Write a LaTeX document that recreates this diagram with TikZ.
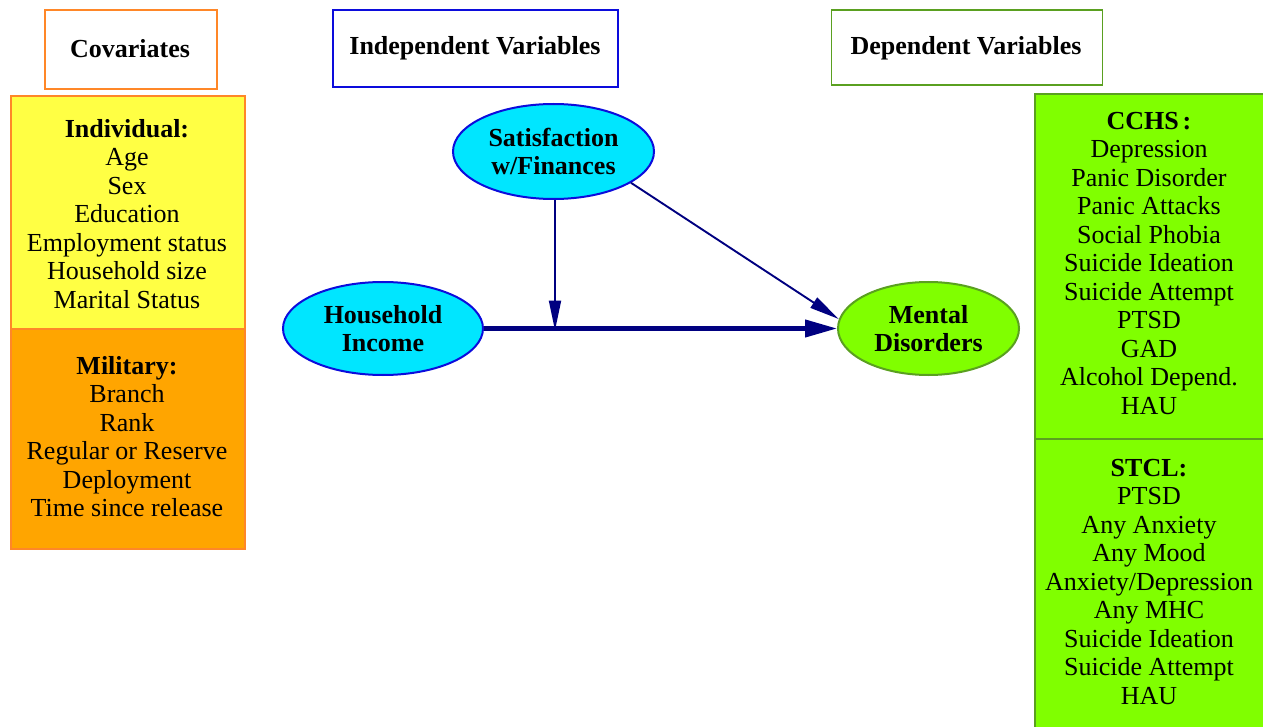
\documentclass[tikz,border=0pt]{standalone}
\usepackage{fontspec}
\setmainfont{Liberation Serif}
\usetikzlibrary{shapes.geometric,arrows.meta}
\definecolor{yel}{RGB}{255,255,68}
\definecolor{orf}{RGB}{255,165,0}
\definecolor{orb}{RGB}{255,135,40}
\definecolor{grf}{RGB}{128,255,0}
\definecolor{grb}{RGB}{90,160,32}
\definecolor{cyf}{RGB}{0,230,255}
\definecolor{blb}{RGB}{12,12,220}
\definecolor{nav}{RGB}{0,0,128}
\tikzset{
  txt/.style={font=\fontsize{26}{28.5}\selectfont, align=center, inner sep=0pt},
  toptxt/.style={txt, anchor=north},
  panel/.style={draw=orb, line width=2pt, anchor=north west, inner sep=0pt},
  oval/.style={ellipse, line width=2pt, inner sep=0pt, txt, font=\fontsize{26}{28}\selectfont\bfseries},
  arr/.style={draw=nav, line width=1.9pt, -{Triangle[length=30pt,width=12pt]}},
  thickarr/.style={draw=nav, line width=4.2pt, -{Triangle[length=32pt,width=17pt]}}
}
\begin{document}
\begin{tikzpicture}[x=1pt,y=-1pt]
\useasboundingbox (0,0) rectangle (1263,727);
\fill[white] (0,0) rectangle (1263,727);

% header boxes
\node[draw=orb, line width=1.8pt, minimum width=172pt, minimum height=79pt, inner sep=0pt] (hcov) at (131,49.5) {};
\node[txt, font=\fontsize{26}{28.5}\selectfont\bfseries, anchor=base] (tcov) at (130,57.5) {Covariates};
\node[draw=blb, line width=1.8pt, minimum width=285pt, minimum height=77pt, inner sep=0pt] (hind) at (475.5,48.5) {};
\node[txt, font=\fontsize{26}{28.5}\selectfont\bfseries, anchor=base] (tind) at (475,54.5) {Independent Variables};
\node[draw=grb, line width=1.8pt, minimum width=271pt, minimum height=75pt, inner sep=0pt] (hdep) at (967,47.5) {};
\node[txt, font=\fontsize{26}{28.5}\selectfont\bfseries, anchor=base] (tdep) at (966,54.5) {Dependent Variables};

% left panels
\node[panel, fill=yel, minimum width=234pt, minimum height=233pt] (pind) at (10,95) {};
\node[panel, fill=orf, minimum width=234pt, minimum height=220pt] (pmil) at (10,328) {};
\node[toptxt] (tindv) at (127,119) {\textbf{Individual:}\\Age\\Sex\\Education\\Employment status\\Household size\\Marital Status};
\node[toptxt] (tmil) at (127,356) {\textbf{Military:}\\Branch\\Rank\\Regular or Reserve\\Deployment\\Time since release};

% right panels
\node[panel, draw=grb, fill=grf, minimum width=232pt, minimum height=345pt] (pcchs) at (1034,93) {};
\node[panel, draw=grb, fill=grf, minimum width=232pt, minimum height=300pt] (pstcl) at (1034,438) {};
\node[toptxt] (tcchs) at (1149,112) {\textbf{CCHS\hspace{0.15em}:}\\Depression\\Panic Disorder\\Panic Attacks\\Social Phobia\\Suicide Ideation\\Suicide Attempt\\PTSD\\GAD\\Alcohol Depend.\\HAU};
\node[toptxt] (tstcl) at (1149,459) {\textbf{STCL:}\\PTSD\\Any Anxiety\\Any Mood\\Anxiety/Depression\\Any MHC\\Suicide Ideation\\Suicide Attempt\\HAU};

% ellipses
\node[oval, draw=blb, fill=cyf, minimum width=201pt, minimum height=95pt] (sat) at (553.5,151.5) {Satisfaction\\w/Finances};
\node[oval, draw=blb, fill=cyf, minimum width=200pt, minimum height=93pt] (hi) at (383,328.5) {Household\\Income};
\node[oval, draw=grb, fill=grf, minimum width=181pt, minimum height=93pt] (md) at (928.5,328.5) {Mental\\Disorders};

% connectors
\coordinate (mod) at (555,328.5);
\draw[thickarr] (hi.east) -- (md.west);
\draw[arr] (sat.south -| mod) -- ([yshift=-2pt]mod);
\draw[arr] (sat.-22) -- (md.174);
\end{tikzpicture}
\end{document}
